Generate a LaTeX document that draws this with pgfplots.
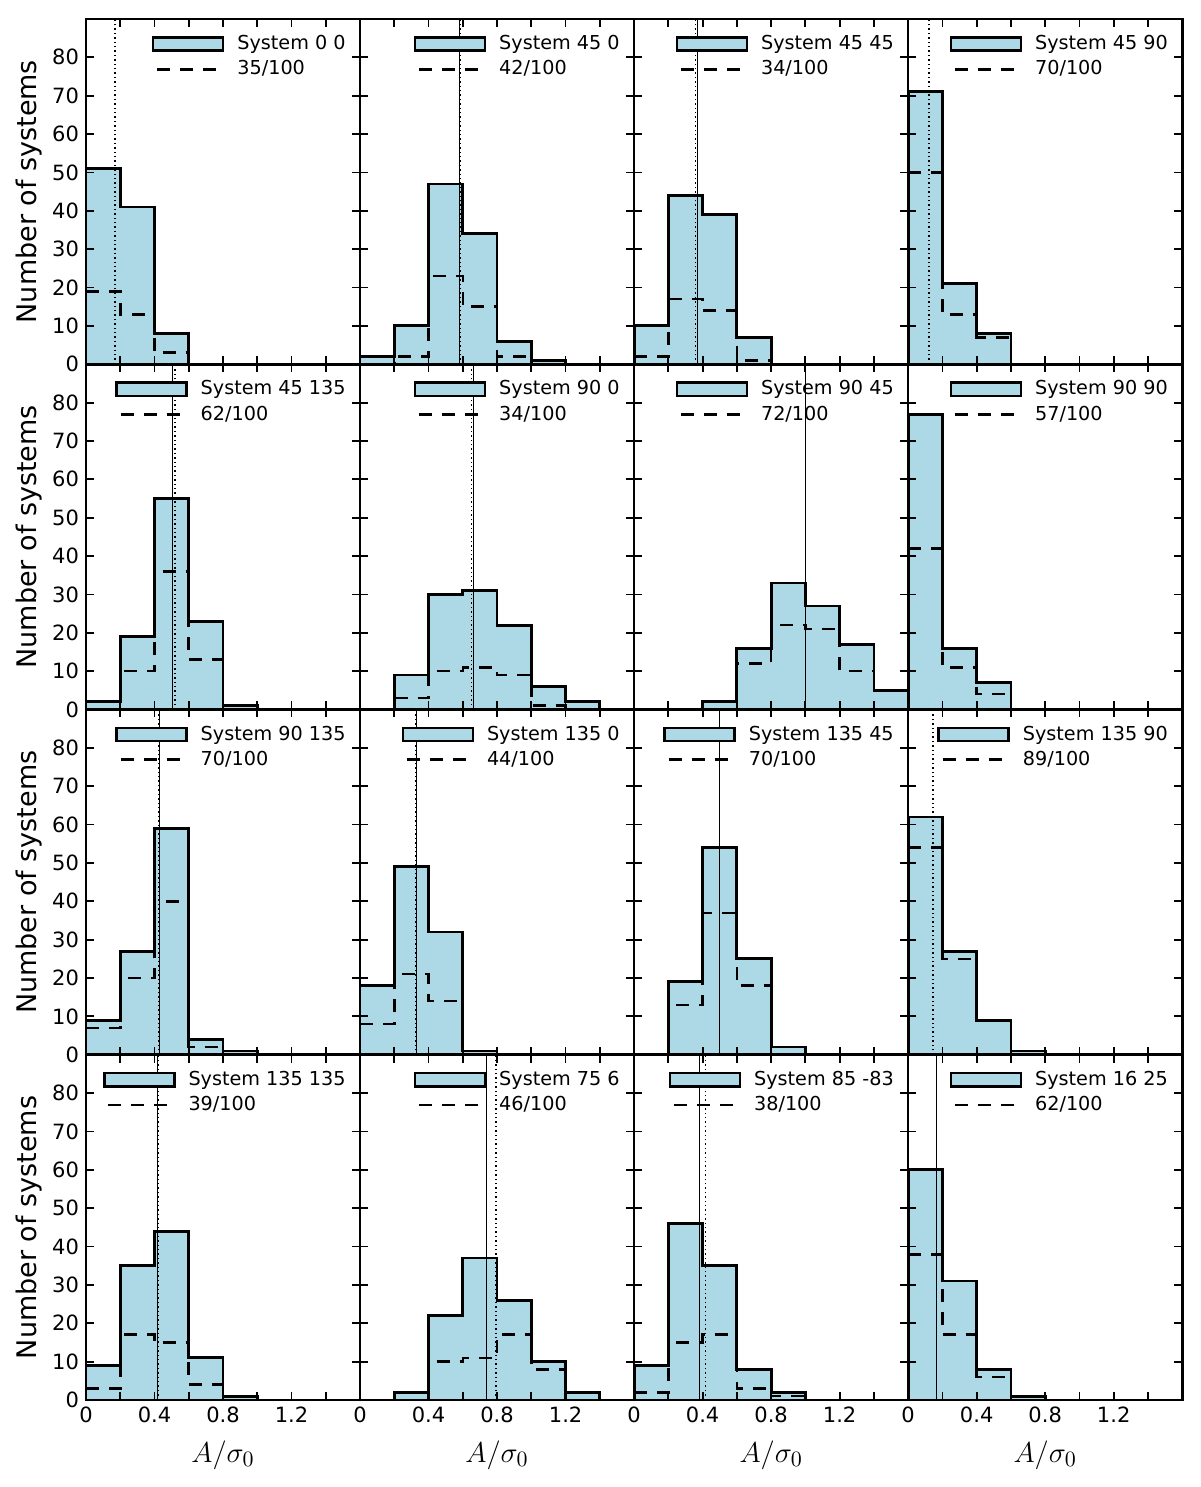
\documentclass[border=0pt]{standalone}
\usepackage{pgfplots}
\pgfplotsset{compat=1.18}
\usepgfplotslibrary{groupplots}
\usetikzlibrary{calc}
\usepackage{fontspec}
\setmainfont{DejaVu Sans}
\definecolor{lightblue}{RGB}{173,216,230}

% filled histogram + dashed subset histogram, with legend
\newcommand{\hist}[4]{%
  \addplot[const plot, fill=lightblue, draw=black, line width=1.4pt,
    legend image code/.code={\draw[fill=lightblue,draw=black,line width=1.2pt] (0pt,-3.3pt) rectangle (35pt,3.3pt);}]
    coordinates {#1} \closedcycle;
  \addlegendentry{System #3}
  \addplot[const plot, black, line width=1.3pt, dash pattern=on 6.5pt off 5pt,
    legend image code/.code={\draw[black,line width=1.3pt,dash pattern=on 6.5pt off 5pt] (2pt,0pt) -- (33pt,0pt);}]
    coordinates {#2};
  \addlegendentry{#4/100}
}
\newcommand{\vsolid}[1]{\addplot[black, line width=0.5pt, forget plot] coordinates {(#1,0) (#1,90)};}
\newcommand{\vdot}[1]{\addplot[black, line width=0.7pt, dash pattern=on 0.7pt off 1.5pt, forget plot] coordinates {(#1,0) (#1,90)};}

\begin{document}
\begin{tikzpicture}
\begin{groupplot}[
  group style={group size=4 by 4, horizontal sep=0pt, vertical sep=0pt,
    x descriptions at=edge bottom, y descriptions at=edge left},
  scale only axis, width=137pt, height=172.6pt,
  xmin=0, xmax=1.6, ymin=0, ymax=90,
  xtick={0,0.2,0.4,0.6,0.8,1.0,1.2,1.4},
  xticklabels={0,,0.4,,0.8,,1.2,},
  ytick={0,10,20,30,40,50,60,70,80},
  /pgf/number format/assume math mode=true,
  tick label style={font=\fontsize{10.5}{12}\selectfont},
  tick align=inside, major tick length=4pt,
  tick style={black, line width=0.9pt},
  axis line style={line width=1.3pt},
  axis on top,
  xlabel={$A/\sigma_0$},
  xlabel style={font=\fontsize{15}{17}\selectfont},
  xlabel shift=2pt,
  ylabel={Number of systems},
  ylabel style={font=\fontsize{13.5}{15}\selectfont},
  ylabel shift=-2pt,
  legend cell align=left,
  legend style={draw=none, fill=none, at={(rel axis cs:1,1)}, anchor=north east,
    xshift=-2pt, yshift=-4pt, font=\fontsize{9.6}{11}\selectfont, row sep=0pt,
    /tikz/every odd column/.append style={column sep=4.5pt}},
]
% row 1
\nextgroupplot
\hist{(0,51)(0.2,41)(0.4,8)(0.6,0)(1.6,0)}{(0,19)(0.2,13)(0.4,3)(0.6,0)(1.6,0)}{0 0}{35}
\vdot{0.17}
\nextgroupplot
\hist{(0,2)(0.2,10)(0.4,47)(0.6,34)(0.8,6)(1.0,1)(1.2,0)(1.6,0)}{(0,0)(0.2,2)(0.4,23)(0.6,15)(0.8,2)(1.0,0)(1.6,0)}{45 0}{42}
\vsolid{0.58}\vdot{0.585}
\nextgroupplot
\hist{(0,10)(0.2,44)(0.4,39)(0.6,7)(0.8,0)(1.6,0)}{(0,2)(0.2,17)(0.4,14)(0.6,1)(0.8,0)(1.6,0)}{45 45}{34}
\vsolid{0.373}\vdot{0.36}
\nextgroupplot
\hist{(0,71)(0.2,21)(0.4,8)(0.6,0)(1.6,0)}{(0,50)(0.2,13)(0.4,7)(0.6,0)(1.6,0)}{45 90}{70}
\vdot{0.122}
% row 2
\nextgroupplot
\hist{(0,2)(0.2,19)(0.4,55)(0.6,23)(0.8,1)(1.0,0)(1.6,0)}{(0,2)(0.2,10)(0.4,36)(0.6,13)(0.8,1)(1.0,0)(1.6,0)}{45 135}{62}
\vsolid{0.503}\vdot{0.519}
\nextgroupplot
\hist{(0,0)(0.2,9)(0.4,30)(0.6,31)(0.8,22)(1.0,6)(1.2,2)(1.4,0)(1.6,0)}{(0,0)(0.2,3)(0.4,10)(0.6,11)(0.8,9)(1.0,1)(1.2,0)(1.6,0)}{90 0}{34}
\vsolid{0.665}\vdot{0.651}
\nextgroupplot
\hist{(0,0)(0.4,2)(0.6,16)(0.8,33)(1.0,27)(1.2,17)(1.4,5)(1.6,0)}{(0,0)(0.4,2)(0.6,12)(0.8,22)(1.0,21)(1.2,10)(1.4,5)(1.6,0)}{90 45}{72}
\vsolid{1.0}\vdot{1.0}
\nextgroupplot
\hist{(0,77)(0.2,16)(0.4,7)(0.6,0)(1.6,0)}{(0,42)(0.2,11)(0.4,4)(0.6,0)(1.6,0)}{90 90}{57}
% row 3
\nextgroupplot
\hist{(0,9)(0.2,27)(0.4,59)(0.6,4)(0.8,1)(1.0,0)(1.6,0)}{(0,7)(0.2,20)(0.4,40)(0.6,2)(0.8,1)(1.0,0)(1.6,0)}{90 135}{70}
\vsolid{0.431}\vdot{0.424}
\nextgroupplot
\hist{(0,18)(0.2,49)(0.4,32)(0.6,1)(0.8,0)(1.6,0)}{(0,8)(0.2,21)(0.4,14)(0.6,1)(0.8,0)(1.6,0)}{135 0}{44}
\vsolid{0.332}\vdot{0.323}
\nextgroupplot
\hist{(0,0)(0.2,19)(0.4,54)(0.6,25)(0.8,2)(1.0,0)(1.6,0)}{(0,0)(0.2,13)(0.4,37)(0.6,18)(0.8,2)(1.0,0)(1.6,0)}{135 45}{70}
\vsolid{0.5}\vdot{0.5}
\nextgroupplot
\hist{(0,62)(0.2,27)(0.4,9)(0.6,1)(0.8,0)(1.6,0)}{(0,54)(0.2,25)(0.4,9)(0.6,1)(0.8,0)(1.6,0)}{135 90}{89}
\vdot{0.145}
% row 4
\nextgroupplot
\hist{(0,9)(0.2,35)(0.4,44)(0.6,11)(0.8,1)(1.0,0)(1.6,0)}{(0,3)(0.2,17)(0.4,15)(0.6,4)(0.8,0)(1.6,0)}{135 135}{39}
\vsolid{0.415}\vdot{0.42}
\nextgroupplot
\hist{(0,0)(0.2,2)(0.4,22)(0.6,37)(0.8,26)(1.0,10)(1.2,2)(1.4,0)(1.6,0)}{(0,0)(0.4,10)(0.6,11)(0.8,17)(1.0,8)(1.2,0)(1.6,0)}{75 6}{46}
\vsolid{0.74}\vdot{0.793}
\nextgroupplot
\hist{(0,9)(0.2,46)(0.4,35)(0.6,8)(0.8,2)(1.0,0)(1.6,0)}{(0,2)(0.2,15)(0.4,17)(0.6,3)(0.8,1)(1.0,0)(1.6,0)}{85 -83}{38}
\vsolid{0.38}\vdot{0.416}
\nextgroupplot
\hist{(0,60)(0.2,31)(0.4,8)(0.6,1)(0.8,0)(1.6,0)}{(0,38)(0.2,17)(0.4,6)(0.6,1)(0.8,0)(1.6,0)}{16 25}{62}
\vsolid{0.163}
\end{groupplot}
\pgfresetboundingbox
\path[use as bounding box] ($(group c1r1.north west)+(-43pt,9.5pt)$) rectangle ($(group c4r4.south east)+(9pt,-43.5pt)$);
\end{tikzpicture}
\end{document}
